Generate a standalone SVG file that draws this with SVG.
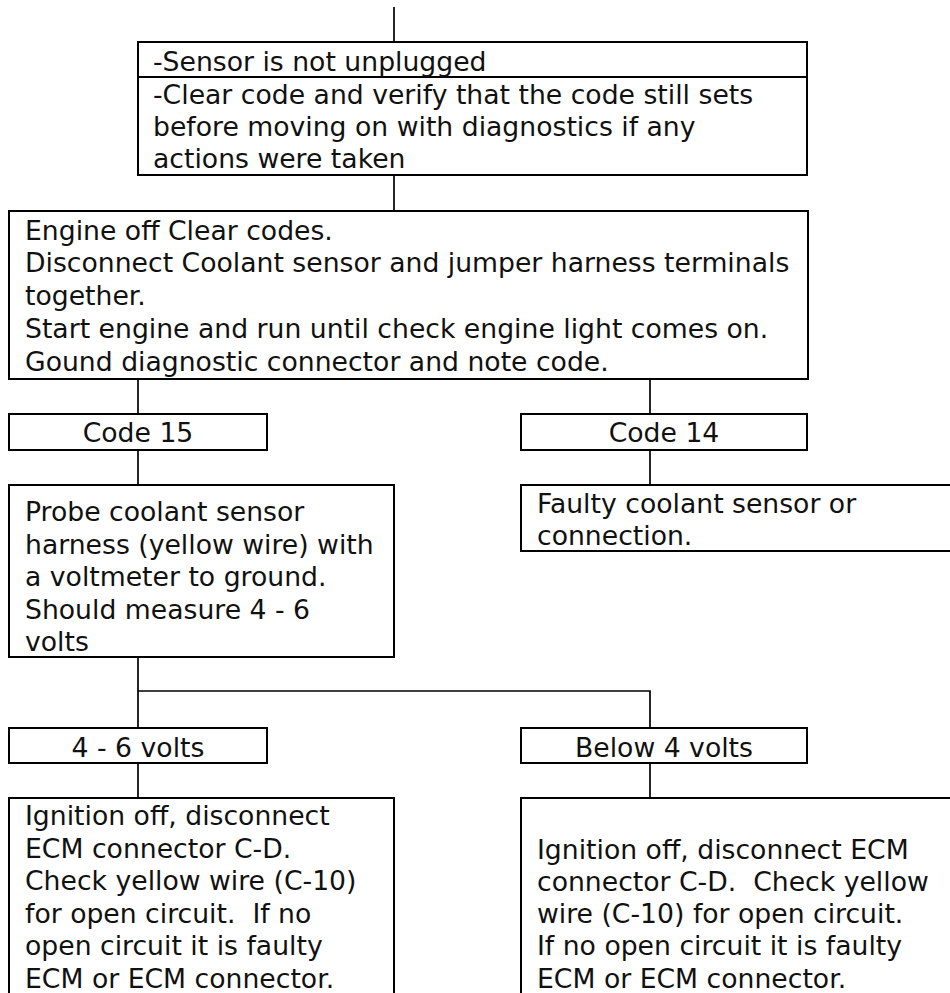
<svg xmlns="http://www.w3.org/2000/svg" width="950" height="993" viewBox="0 0 950 993">
  <style>
    .box { fill: #ffffff; stroke: #000000; stroke-width: 2; }
    .rule { stroke: #000000; stroke-width: 2; fill: none; }
    .wire { stroke: #000000; stroke-width: 1.7; fill: none; }
    text { font-family: "DejaVu Sans", Verdana, sans-serif; font-size: 26.67px; fill: #111111; white-space: pre; }
    .mid { text-anchor: middle; }
  </style>
  <rect width="950" height="993" fill="#ffffff"/>

  <!-- connectors -->
  <g id="connectors">
    <line class="wire" x1="394" y1="7" x2="394" y2="42"/>
    <line class="wire" x1="394" y1="175" x2="394" y2="211"/>
    <line class="wire" x1="138" y1="379" x2="138" y2="414"/>
    <line class="wire" x1="650" y1="379" x2="650" y2="414"/>
    <line class="wire" x1="138" y1="450" x2="138" y2="485"/>
    <line class="wire" x1="650" y1="450" x2="650" y2="485"/>
    <polyline class="wire" points="138,657 138,728"/>
    <polyline class="wire" points="138,691 650,691 650,728"/>
    <line class="wire" x1="138" y1="763" x2="138" y2="798"/>
    <line class="wire" x1="650" y1="763" x2="650" y2="798"/>
  </g>

  <!-- preconditions table -->
  <g id="node-preconditions">
    <rect class="box" x="138" y="42" width="669" height="133"/>
    <line class="rule" x1="138" y1="77" x2="807" y2="77"/>
    <text x="153" y="70.5">-Sensor is not unplugged</text>
    <text x="153" y="103.5">-Clear code and verify that the code still sets</text>
    <text x="153" y="136">before moving on with diagnostics if any</text>
    <text x="153" y="168">actions were taken</text>
  </g>

  <!-- jumper test -->
  <g id="node-jumper-test">
    <rect class="box" x="9" y="211" width="799" height="168"/>
    <text x="25" y="239.5">Engine off Clear codes.</text>
    <text x="25" y="272">Disconnect Coolant sensor and jumper harness terminals</text>
    <text x="25" y="305">together.</text>
    <text x="25" y="338">Start engine and run until check engine light comes on.</text>
    <text x="25" y="371">Gound diagnostic connector and note code.</text>
  </g>

  <g id="node-code15">
    <rect class="box" x="9" y="414" width="258" height="36"/>
    <text class="mid" x="138" y="442">Code 15</text>
  </g>

  <g id="node-code14">
    <rect class="box" x="521" y="414" width="286" height="36"/>
    <text class="mid" x="664" y="442">Code 14</text>
  </g>

  <g id="node-probe">
    <rect class="box" x="9" y="485" width="385" height="172"/>
    <text x="25" y="521">Probe coolant sensor</text>
    <text x="25" y="553.5">harness (yellow wire) with</text>
    <text x="25" y="586">a voltmeter to ground.</text>
    <text x="25" y="618.5">Should measure 4 - 6</text>
    <text x="25" y="651">volts</text>
  </g>

  <g id="node-faulty-sensor">
    <rect class="box" x="521" y="485" width="432" height="66"/>
    <text x="537" y="512.5">Faulty coolant sensor or</text>
    <text x="537" y="545">connection.</text>
  </g>

  <g id="node-4-6-volts">
    <rect class="box" x="9" y="728" width="258" height="35"/>
    <text class="mid" x="138" y="757">4 - 6 volts</text>
  </g>

  <g id="node-below-4-volts">
    <rect class="box" x="521" y="728" width="286" height="35"/>
    <text class="mid" x="664" y="757">Below 4 volts</text>
  </g>

  <g id="node-ecm-check-left">
    <rect class="box" x="9" y="798" width="385" height="220"/>
    <text x="25" y="825">Ignition off, disconnect</text>
    <text x="25" y="857.5">ECM connector C-D.</text>
    <text x="25" y="890">Check yellow wire (C-10)</text>
    <text x="25" y="922.5" xml:space="preserve">for open circuit.  If no</text>
    <text x="25" y="955">open circuit it is faulty</text>
    <text x="25" y="987.5">ECM or ECM connector.</text>
  </g>

  <g id="node-ecm-check-right">
    <rect class="box" x="521" y="798" width="432" height="220"/>
    <text x="537" y="858.5">Ignition off, disconnect ECM</text>
    <text x="537" y="890.5" xml:space="preserve">connector C-D.  Check yellow</text>
    <text x="537" y="922.5">wire (C-10) for open circuit.</text>
    <text x="537" y="955">If no open circuit it is faulty</text>
    <text x="537" y="987.5">ECM or ECM connector.</text>
  </g>
</svg>
